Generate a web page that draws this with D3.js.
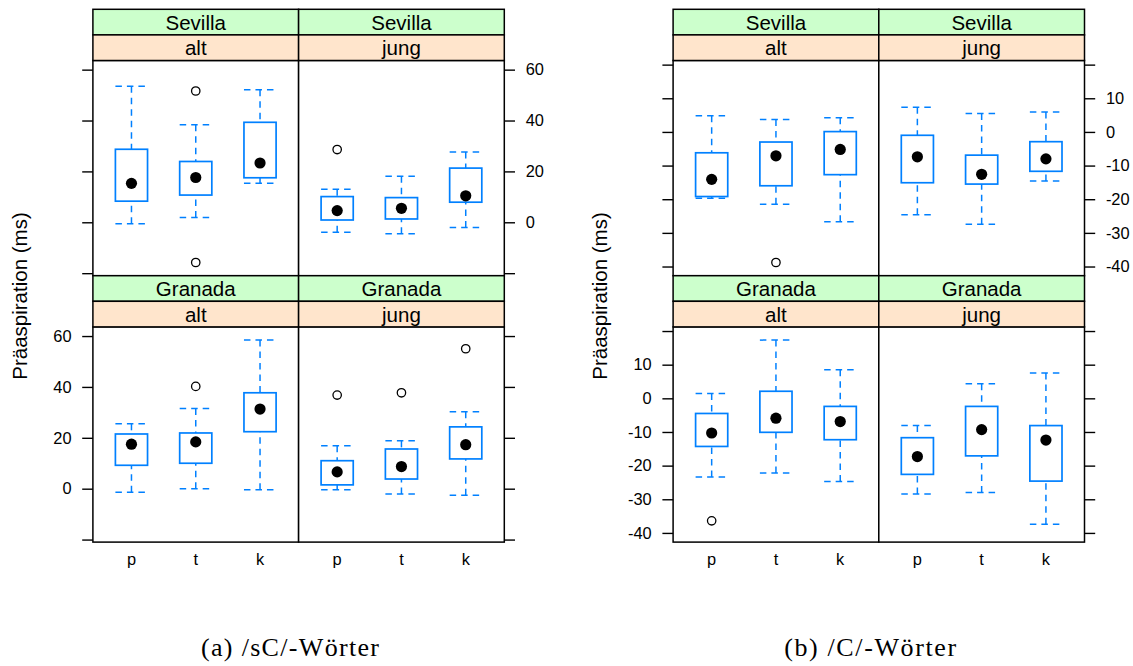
<!DOCTYPE html>
<html>
<head>
<meta charset="utf-8">
<script src="https://cdn.jsdelivr.net/npm/d3@7"></script>
<style>
  body { margin: 0; background: #fff; }
  svg { display: block; }
</style>
</head>
<body>
<script>
// Factor levels
const consonants = ["p", "t", "k"];
const panelCities = ["Sevilla", "Sevilla", "Granada", "Granada"];
const panelAges = ["alt", "jung", "alt", "jung"];

// /sC/ words: panels (Sevilla alt, Sevilla jung, Granada alt, Granada jung), each p, t, k
const sCLower   = [[-0.6, 1.9, 15.3], [-3.9, -4.5, -2.0], [-1.4, 0.0, -0.4], [-0.4, -2.1, -2.6]];
const sCQ1      = [[8.3, 10.7, 17.5], [0.9, 1.3, 7.9], [9.2, 10.0, 22.4], [1.5, 3.8, 11.7]];
const sCMedian  = [[15.3, 17.6, 23.3], [4.6, 5.5, 10.4], [17.5, 18.4, 31.3], [6.6, 8.7, 17.3]];
const sCQ3      = [[28.7, 23.9, 39.3], [10.1, 9.7, 21.3], [21.5, 21.9, 37.7], [11.0, 15.6, 24.3]];
const sCUpper   = [[53.5, 38.3, 52.1], [13.0, 18.1, 27.6], [25.5, 31.5, 58.4], [16.9, 18.8, 30.2]];
const sCOutliers = [[[], [51.6, -15.8], []], [[28.6], [], []], [[], [40.2], []], [[36.8], [37.7], [55.0]]];
const sCTicks = [-20, 0, 20, 40, 60];
const sCTickLabels = [0, 20, 40, 60];

// /C/ words
const cLower   = [[-19.7, -21.5, -26.7], [-24.6, -27.4, -14.6], [-23.4, -22.2, -24.7], [-28.4, -28.0, -37.4]];
const cQ1      = [[-19.2, -16.0, -12.7], [-15.1, -15.5, -11.7], [-14.3, -10.1, -12.3], [-22.6, -17.1, -24.6]];
const cMedian  = [[-14.1, -7.1, -5.2], [-7.4, -12.6, -8.0], [-10.3, -5.9, -6.9], [-17.3, -9.3, -12.4]];
const cQ3      = [[-6.2, -3.0, 0.1], [-1.0, -6.9, -2.9], [-4.5, 2.1, -2.4], [-11.7, -2.4, -8.1]];
const cUpper   = [[4.8, 3.7, 4.2], [7.3, 5.5, 5.9], [1.4, 17.3, 8.5], [-8.1, 4.3, 7.5]];
const cOutliers = [[[], [-38.8], []], [[], [], []], [[-36.4], [], []], [[], [], []]];
const cTicks = [-40, -30, -20, -10, 0, 10, 20];
const cTickLabels = [-40, -30, -20, -10, 0, 10];

const yTitle = "Präaspiration (ms)";

// Layout of one lattice figure
const W = 1133, H = 666;
const PANEL_X0 = 92.9, PANEL_W = 205.7;
const TOP = 9.3, STRIP_H = 25.6, PANEL_H = 215.2;
const TICK = 10.7;
const BLUE = "#0080ff";
const STRIP_OUTER = "#ccffcc", STRIP_INNER = "#ffe5cc";
const SANS = "'Liberation Sans', Arial, Helvetica, sans-serif";

const svg = d3.select("body").append("svg")
  .attr("width", W).attr("height", H)
  .attr("viewBox", `0 0 ${W} ${H}`);

function drawChart(ox, s, tickValues, labelValues, caption, captionWidth) {
  const g = svg.append("g").attr("transform", `translate(${ox},0)`);

  const all = [...s.lower.flat(), ...s.upper.flat(), ...s.outliers.flat(2)];
  const [lo, hi] = d3.extent(all);
  const pad = 0.07 * (hi - lo);

  for (let i = 0; i < 4; i++) {
    const col = i % 2, row = Math.floor(i / 2);
    const px = PANEL_X0 + col * PANEL_W;
    const stripTop = TOP + row * (2 * STRIP_H + PANEL_H);
    const py0 = stripTop + 2 * STRIP_H, py1 = py0 + PANEL_H;

    const x = d3.scalePoint().domain(consonants).range([px, px + PANEL_W]).padding(0.6);
    const y = d3.scaleLinear().domain([lo - pad, hi + pad]).range([py1, py0]);
    const bw = x.step() * 0.5;

    const pg = g.append("g");
    pg.append("rect").attr("x", px).attr("y", py0).attr("width", PANEL_W).attr("height", PANEL_H)
      .attr("fill", "#fff");

    const rows = consonants.map((c, j) => ({
      c, lower: s.lower[i][j], q1: s.q1[i][j], med: s.median[i][j],
      q3: s.q3[i][j], upper: s.upper[i][j], out: s.outliers[i][j]
    }));

    const dash = "6.5,5";
    rows.forEach(d => {
      const cx = x(d.c);
      // whiskers, drawn from the extremes toward the hinges
      pg.append("line").attr("x1", cx).attr("x2", cx).attr("y1", y(d.upper)).attr("y2", y(d.q3))
        .attr("stroke", BLUE).attr("stroke-width", 1.5).attr("stroke-dasharray", dash);
      pg.append("line").attr("x1", cx).attr("x2", cx).attr("y1", y(d.lower)).attr("y2", y(d.q1))
        .attr("stroke", BLUE).attr("stroke-width", 1.5).attr("stroke-dasharray", dash);
      // caps
      [d.upper, d.lower].forEach(v => {
        pg.append("line").attr("x1", cx - bw / 2).attr("x2", cx + bw / 2).attr("y1", y(v)).attr("y2", y(v))
          .attr("stroke", BLUE).attr("stroke-width", 1.5).attr("stroke-dasharray", dash);
      });
      // box
      pg.append("rect").attr("x", cx - bw / 2).attr("y", y(d.q3))
        .attr("width", bw).attr("height", y(d.q1) - y(d.q3))
        .attr("fill", "none").attr("stroke", BLUE).attr("stroke-width", 1.7);
      // median dot
      pg.append("circle").attr("cx", cx).attr("cy", y(d.med)).attr("r", 5.6).attr("fill", "#000");
      // outliers
      d.out.forEach(v => {
        pg.append("circle").attr("cx", cx).attr("cy", y(v)).attr("r", 4.2)
          .attr("fill", "none").attr("stroke", "#000").attr("stroke-width", 1.3);
      });
    });

    // panel border
    pg.append("rect").attr("x", px).attr("y", py0).attr("width", PANEL_W).attr("height", PANEL_H)
      .attr("fill", "none").attr("stroke", "#000").attr("stroke-width", 1.5);

    // strips
    [[panelCities[i], STRIP_OUTER, stripTop], [panelAges[i], STRIP_INNER, stripTop + STRIP_H]]
      .forEach(([label, fill, sy]) => {
        pg.append("rect").attr("x", px).attr("y", sy).attr("width", PANEL_W).attr("height", STRIP_H)
          .attr("fill", fill).attr("stroke", "#000").attr("stroke-width", 1.5);
        pg.append("text").attr("x", px + PANEL_W / 2).attr("y", sy + STRIP_H / 2 + 7.4)
          .attr("text-anchor", "middle").attr("font-family", SANS).attr("font-size", 20.5)
          .attr("fill", "#000").text(label);
      });

    // x labels under the bottom row
    if (row === 1) {
      consonants.forEach(c => {
        pg.append("text").attr("x", x(c)).attr("y", 565)
          .attr("text-anchor", "middle").attr("font-family", SANS).attr("font-size", 16.4)
          .attr("fill", "#000").text(c);
      });
    }

    // y axes, one pair per row
    if (col === 0) {
      const fmtOn = d => labelValues.includes(d) ? String(d) : "";
      const fmtOff = () => "";
      const left = d3.axisLeft(y).tickValues(tickValues).tickSize(TICK).tickPadding(TICK)
        .tickFormat(row === 1 ? fmtOn : fmtOff);
      const right = d3.axisRight(y).tickValues(tickValues).tickSize(TICK).tickPadding(TICK)
        .tickFormat(row === 0 ? fmtOn : fmtOff);
      [[left, PANEL_X0], [right, PANEL_X0 + 2 * PANEL_W]].forEach(([ax, ax0]) => {
        const a = g.append("g").attr("transform", `translate(${ax0},0)`).call(ax);
        a.select(".domain").remove();
        a.selectAll(".tick line").attr("stroke", "#000").attr("stroke-width", 1.4);
        a.selectAll(".tick text").attr("font-family", SANS).attr("font-size", 16.4).attr("fill", "#000");
      });
    }
  }

  // y title
  g.append("text").attr("transform", "translate(27,296) rotate(-90)")
    .attr("text-anchor", "middle").attr("font-family", SANS).attr("font-size", 20.5)
    .attr("fill", "#000").text(yTitle);

  // sub-figure caption
  svg.append("text").attr("x", ox + 290).attr("y", 656)
    .attr("text-anchor", "middle").attr("font-family", "'Liberation Serif', 'Times New Roman', serif")
    .attr("font-size", 26).attr("fill", "#000")
    .attr("textLength", captionWidth).attr("lengthAdjust", "spacing")
    .text(caption);
}

drawChart(0, { lower: sCLower, q1: sCQ1, median: sCMedian, q3: sCQ3, upper: sCUpper, outliers: sCOutliers },
  sCTicks, sCTickLabels, "(a) /sC/-Wörter", 178);
drawChart(580.2, { lower: cLower, q1: cQ1, median: cMedian, q3: cQ3, upper: cUpper, outliers: cOutliers },
  cTicks, cTickLabels, "(b) /C/-Wörter", 172);
</script>
</body>
</html>
